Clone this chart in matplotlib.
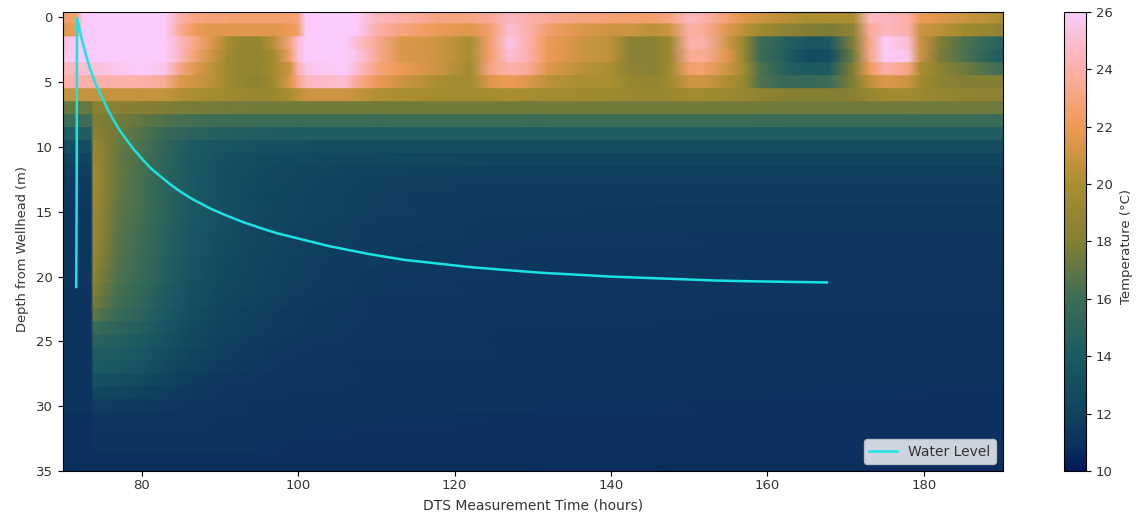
import numpy as np
import matplotlib
matplotlib.use("Agg")
import matplotlib.pyplot as plt
from matplotlib.colors import LinearSegmentedColormap

batlow_stops = [0.0, 0.05, 0.125, 0.25, 0.375, 0.5, 0.625, 0.75, 0.875, 1.0]
batlow_colors = ["#011959", "#0c305f", "#10435f", "#1c5a62", "#3c6d56", "#847f33", "#a98e2f", "#ee9a55", "#fdafa8", "#facbfa"]

shallow_times = [69.9, 71.5, 72.5, 76, 80, 83, 85, 87, 89, 91, 93, 95, 97, 99, 100, 101, 106, 107.5, 110, 113, 118, 122,
                 124.5, 127, 129.5, 132, 136, 140, 142.5, 145.5, 147.5, 150, 152, 155, 157, 159, 162, 165, 168, 171, 173,
                 175, 178, 179.5, 182, 185, 188, 190.1]
shallow_depths = [0, 1, 2, 3, 4, 5, 6]
temp_d0 = [22.5, 22.5, 26, 26, 26, 26, 24, 23, 22.8, 22.8, 22.5, 22.5, 22.5, 22.5, 23, 26, 26, 26, 24.5, 24, 23, 23, 23.5, 24.5, 24, 23.5, 23, 22.8, 22.5, 22.5, 23, 24.5, 24, 22.5, 21.5, 21, 20.5, 20, 20, 20, 24.5, 24.5, 24, 22, 21.5, 21, 20.5, 20]
temp_d1 = [21.5, 22, 26, 26, 26, 26, 23.5, 22, 21.5, 21.5, 21.5, 21.5, 21.5, 22, 22.5, 26, 26, 26, 24, 23, 22, 21.5, 22.5, 25, 24, 22.5, 21.5, 21, 21, 20.5, 21, 24, 23.5, 21.5, 20.5, 19.5, 18.5, 18, 17.8, 18.5, 23.5, 24.5, 24, 21, 20.5, 19.5, 19, 18.5]
temp_d2 = [25, 26, 26, 26, 26, 26, 24.5, 23, 21.5, 19.8, 18.8, 18.8, 20.5, 23, 25, 26, 26, 25, 23.5, 21.5, 21, 20, 22.5, 25.5, 24, 22, 21, 20.5, 18.3, 18.3, 19.3, 24, 24, 21, 19, 16, 14.8, 13.8, 14, 18, 23, 26, 25, 21, 18, 16.5, 15.5, 14.8]
temp_d3 = [25.5, 26, 26, 26, 26, 26, 24.5, 22.5, 21, 19.5, 18.8, 18.8, 19.8, 22.5, 25, 26, 26, 25.5, 23.5, 21.5, 21, 20, 22.5, 25, 24, 22, 21, 20.5, 18.2, 18.2, 19.3, 23.5, 23.5, 21.5, 19, 16, 14.5, 12.6, 12.8, 17.5, 23, 26, 25.5, 21, 17.8, 16.5, 15, 14.2]
temp_d4 = [24.5, 24.5, 25, 25.5, 26, 25.5, 23, 21.5, 20.5, 19.5, 18.8, 18.8, 19.8, 21, 24, 25.5, 26, 25, 23, 22, 21, 19.5, 23, 24, 23.5, 21.5, 20.5, 20, 18.5, 18.3, 19.5, 22.5, 22.5, 21, 19.5, 16.5, 14.8, 14, 14.2, 18, 22, 24, 23, 20, 18.5, 17.5, 16.5, 16]
temp_d5 = [24, 24, 24, 24, 24, 23.5, 21.5, 21, 20.5, 19.5, 18.8, 18.5, 19.5, 21.5, 23, 24.5, 25, 23.5, 22, 21, 20, 19.5, 21.5, 22, 21.5, 20.5, 20, 20, 19, 18.8, 19.5, 21, 21, 20, 19, 16.5, 15.8, 15.5, 16, 18, 20.5, 21.5, 21, 19.5, 18.5, 18, 18, 18]
temp_d6 = [20.8, 20.8, 20.8, 20.8, 20.8, 20.8, 20.3, 20, 19.8, 19.5, 19.2, 19, 19.3, 20, 20.5, 21, 21, 20.8, 20.3, 20, 19.8, 19.6, 19.8, 20, 19.8, 19.6, 19.5, 19.4, 19.2, 19, 19.2, 19.5, 19.5, 19.3, 19, 18.6, 18.2, 18, 18, 18.3, 19, 19.5, 19.6, 19.3, 18.9, 18.7, 18.6, 18.5]

deep_times = [69.9, 73.55, 73.85, 75, 77, 80, 83, 86, 90, 95, 100, 110, 130, 160, 190.1]
deep_depths = list(range(7, 36))
temp_d7 = [17.2, 17.2, 18.2, 18.2, 18.2, 18.1, 17.9, 17.7, 17.6, 17.5, 17.5, 17.5, 17.5, 17.5, 17.4]
temp_d8 = [16, 16, 18, 17.8, 17.6, 17, 16.5, 16.2, 16, 15.9, 15.9, 15.9, 15.9, 15.9, 15.8]
temp_d9 = [14.3, 14.3, 18.4, 18, 17.4, 16.6, 15.6, 15, 14.6, 14.4, 14.3, 14.3, 14.3, 14.3, 14.3]
temp_d10 = [12.9, 12.9, 19, 18.4, 17.2, 16.4, 15.2, 14.2, 13.5, 13.2, 13, 12.9, 12.9, 12.9, 12.9]
temp_d11 = [12.1, 12.1, 19.3, 18.5, 17.2, 16.3, 15.1, 14.1, 13.2, 12.7, 12.5, 12.3, 12.2, 12.2, 12.2]
temp_d12 = [11.7, 11.7, 19.4, 18.6, 17.2, 16.3, 15, 14, 13.1, 12.6, 12.3, 11.9, 11.8, 11.8, 11.8]
temp_d13 = [11.5, 11.5, 19.4, 18.6, 17.2, 16.2, 15, 14, 13, 12.5, 12.2, 11.8, 11.6, 11.6, 11.6]
temp_d14 = [11.4, 11.4, 19.3, 18.5, 17.1, 16.2, 15, 14, 13, 12.4, 12.1, 11.7, 11.5, 11.5, 11.5]
temp_d15 = [11.3, 11.3, 19.2, 18.4, 17, 16.2, 15, 14, 13.1, 12.5, 12.1, 11.7, 11.5, 11.4, 11.4]
temp_d16 = [11.3, 11.3, 19.2, 18.3, 16.9, 16.1, 14.9, 13.9, 13, 12.4, 12, 11.6, 11.4, 11.4, 11.4]
temp_d17 = [11.2, 11.2, 19.1, 18.2, 16.8, 16, 14.8, 13.8, 12.9, 12.3, 11.9, 11.6, 11.4, 11.3, 11.3]
temp_d18 = [11.2, 11.2, 19, 18, 16.7, 15.9, 14.7, 13.7, 12.8, 12.2, 11.9, 11.5, 11.3, 11.3, 11.3]
temp_d19 = [11.2, 11.2, 18.9, 17.8, 16.6, 15.8, 14.6, 13.6, 12.7, 12.2, 11.8, 11.5, 11.3, 11.3, 11.3]
temp_d20 = [11.2, 11.2, 18.7, 17.6, 16.5, 15.7, 14.5, 13.5, 12.6, 12.1, 11.8, 11.4, 11.3, 11.2, 11.2]
temp_d21 = [11.1, 11.1, 18.3, 17.3, 16.3, 15.5, 14.3, 13.4, 12.5, 12, 11.7, 11.4, 11.2, 11.2, 11.2]
temp_d22 = [11.1, 11.1, 17.8, 17, 16.1, 15.3, 14.1, 13.2, 12.4, 11.9, 11.6, 11.3, 11.2, 11.2, 11.2]
temp_d23 = [11.1, 11.1, 17, 16.4, 15.7, 15, 13.9, 13, 12.2, 11.8, 11.5, 11.3, 11.2, 11.1, 11.1]
temp_d24 = [11.1, 11.1, 15.8, 15.5, 15.1, 14.5, 13.5, 12.7, 12, 11.7, 11.5, 11.2, 11.1, 11.1, 11.1]
temp_d25 = [11.1, 11.1, 15, 14.8, 14.6, 14.1, 13.2, 12.5, 11.9, 11.6, 11.4, 11.2, 11.1, 11.1, 11]
temp_d26 = [11, 11, 14.4, 14.3, 14.2, 13.7, 12.9, 12.3, 11.8, 11.5, 11.3, 11.2, 11.1, 11, 11]
temp_d27 = [11, 11, 14, 13.9, 13.8, 13.2, 12.5, 12, 11.6, 11.4, 11.2, 11.1, 11, 11, 11]
temp_d28 = [11, 11, 13.2, 13.2, 13, 12.6, 12.1, 11.7, 11.4, 11.3, 11.2, 11.1, 11, 11, 11]
temp_d29 = [11, 11, 12.3, 12.3, 12.2, 12, 11.7, 11.5, 11.3, 11.2, 11.1, 11, 11, 11, 10.9]
temp_d30 = [11, 11, 11.7, 11.7, 11.6, 11.5, 11.4, 11.3, 11.2, 11.1, 11.1, 11, 11, 10.9, 10.9]
temp_d31 = [10.9, 10.9, 11.3, 11.3, 11.3, 11.3, 11.2, 11.2, 11.1, 11.1, 11, 11, 10.9, 10.9, 10.9]
temp_d32 = [10.9, 10.9, 11.1, 11.1, 11.1, 11.1, 11.1, 11.1, 11, 11, 11, 10.9, 10.9, 10.9, 10.9]
temp_d33 = [10.9, 10.9, 11, 11, 11, 11, 11, 11, 11, 11, 10.9, 10.9, 10.9, 10.9, 10.8]
temp_d34 = [10.8, 10.8, 10.9, 10.9, 10.9, 10.9, 10.9, 10.9, 10.9, 10.9, 10.9, 10.9, 10.8, 10.8, 10.8]
temp_d35 = [10.8, 10.8, 10.8, 10.8, 10.8, 10.8, 10.8, 10.8, 10.8, 10.8, 10.8, 10.8, 10.8, 10.7, 10.7]

shallow_temps = [temp_d0, temp_d1, temp_d2, temp_d3, temp_d4, temp_d5, temp_d6]
deep_temps = [temp_d7, temp_d8, temp_d9, temp_d10, temp_d11, temp_d12, temp_d13, temp_d14, temp_d15, temp_d16,
              temp_d17, temp_d18, temp_d19, temp_d20, temp_d21, temp_d22, temp_d23, temp_d24, temp_d25, temp_d26,
              temp_d27, temp_d28, temp_d29, temp_d30, temp_d31, temp_d32, temp_d33, temp_d34, temp_d35]

water_time = [71.65, 71.7, 71.72, 71.75, 72.1, 72.5, 72.95, 73.45, 74.1, 74.9, 75.6, 76.4, 77.2, 78.1, 79.1, 80.2,
              81.2, 82.3, 83.4, 84.5, 85.5, 86.6, 88.8, 90.9, 93, 95.2, 97.3, 100.3, 104, 109, 113.5, 118, 122, 126.8,
              131, 135.6, 140, 144.4, 149, 153.2, 158, 162, 167.6]
water_depth = [20.8, 15, 10, 0.05, 1, 2, 3, 4, 5.1, 6.1, 7, 7.9, 8.7, 9.46, 10.25, 11, 11.65, 12.2, 12.75, 13.25,
               13.65, 14.05, 14.75, 15.3, 15.8, 16.25, 16.65, 17.1, 17.65, 18.25, 18.7, 19, 19.27, 19.5, 19.7, 19.85, 20,
               20.1, 20.2, 20.3, 20.36, 20.4, 20.45]

cmap = LinearSegmentedColormap.from_list("batlow_like", list(zip(batlow_stops, batlow_colors)), N=256)
plt.rcParams["font.size"] = 9.5
plt.rcParams["text.color"] = "#333333"
plt.rcParams["axes.labelcolor"] = "#333333"
plt.rcParams["xtick.labelcolor"] = "#333333"
plt.rcParams["ytick.labelcolor"] = "#333333"

fig = plt.figure(figsize=(11.37, 5.16), dpi=100)
ax = fig.add_axes([62.5 / 1137, 1 - 471 / 516, 940.5 / 1137, 459 / 516])
cax = fig.add_axes([1064 / 1137, 1 - 471 / 516, 22 / 1137, 459 / 516])


def draw_block(times, depths, temps):
    temps = np.asarray(temps, dtype=float)
    depths = np.asarray(depths, dtype=float)
    edges = np.column_stack([depths - 0.5, depths + 0.5]).ravel()
    X, Y = np.meshgrid(times, edges)
    C = np.repeat(temps, 2, axis=0)
    return ax.pcolormesh(X, Y, C, shading="gouraud", cmap=cmap, vmin=10, vmax=26, rasterized=True)


mesh = draw_block(shallow_times, shallow_depths, shallow_temps)
draw_block(deep_times, deep_depths, deep_temps)
ax.plot(water_time, water_depth, color="#19e3e3", lw=1.8, label="Water Level")

ax.set_xlim(69.9, 190.1)
ax.set_ylim(35, -0.42)
ax.set_xticks([80, 100, 120, 140, 160, 180])
ax.set_yticks([0, 5, 10, 15, 20, 25, 30, 35])
ax.tick_params(axis="x", pad=2.5)
ax.set_xlabel("DTS Measurement Time (hours)", labelpad=4.5, fontsize=10)
ax.set_ylabel("Depth from Wellhead (m)", labelpad=5, fontsize=9.4, y=0.484)
ax.legend(loc="lower right", framealpha=0.8, fontsize=10)

cb = fig.colorbar(mesh, cax=cax)
cb.set_ticks([10, 12, 14, 16, 18, 20, 22, 24, 26])
cb.set_label("Temperature (°C)", labelpad=5, y=0.49)

fig.savefig("out.png", dpi=100)
